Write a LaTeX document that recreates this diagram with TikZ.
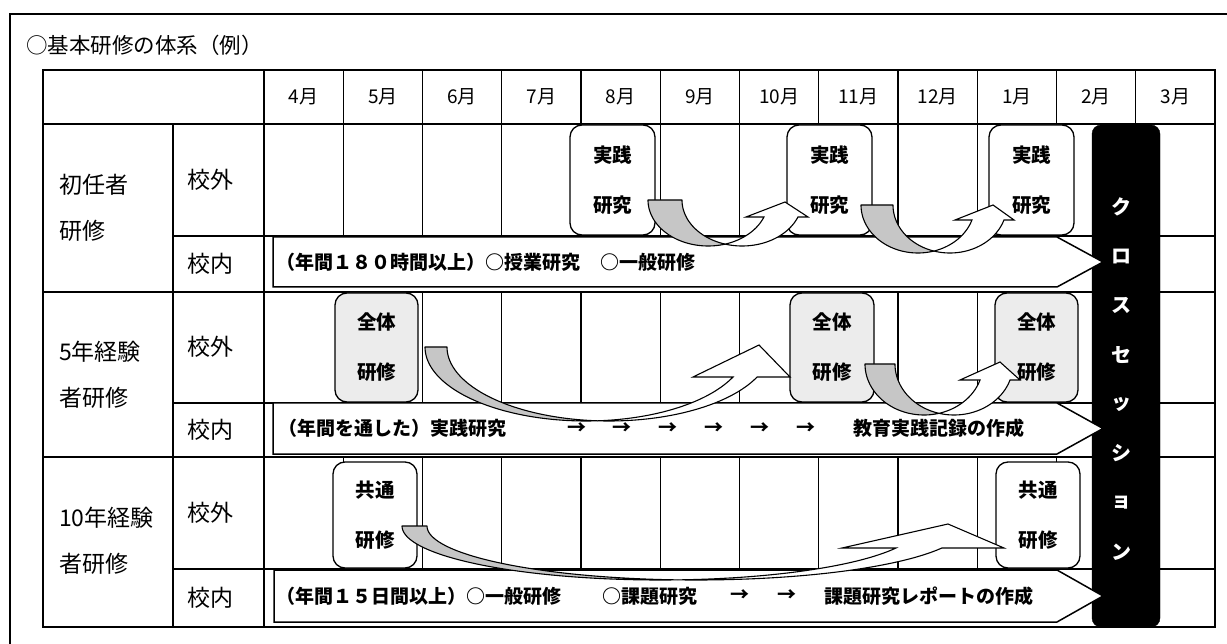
\documentclass[tikz,border=0pt]{standalone}
\usepackage{fontspec}
\setmainfont{Noto Sans CJK JP}
\newcommand\titlefont{\fontsize{21.5}{21.5}\selectfont}
\newcommand\monthfont{\fontsize{19}{19}\selectfont}
\newcommand\lblfont{\fontsize{23}{23}\selectfont}
\newcommand\bandfont{\fontsize{19}{19}\selectfont\bfseries}
\newcommand\boxfont{\fontsize{19.5}{50}\selectfont\bfseries}
\newcommand\csfont{\fontsize{20}{20}\selectfont\bfseries}
% #1 cxL #2 aL #3 cxR #4 aR #5 cy #6 b #7 end angle #8 head points
\newcommand\curvedarrow[8]{%
  \pgfmathsetmacro\tcA{acos((#3-#1)/(#2+#4))}%
  \pgfmathsetmacro\tcB{180-\tcA}%
  \filldraw[backface] plot[domain=180:\tcA,samples=60,variable=\t] ({#1+#2*cos(\t)},{#5+#6*sin(\t)})
     -- plot[domain=\tcB:180,samples=60,variable=\t] ({#3+#4*cos(\t)},{#5+#6*sin(\t)}) -- cycle;
  \filldraw[frontface] plot[domain=\tcA:#7,samples=60,variable=\t] ({#1+#2*cos(\t)},{#5+#6*sin(\t)})
     -- #8 -- plot[domain=#7:\tcB,samples=60,variable=\t] ({#3+#4*cos(\t)},{#5+#6*sin(\t)}) -- cycle;
}
\begin{document}
\begin{tikzpicture}[x=1pt,y=-1pt,
  gridline/.style={line width=1.3pt},
  frameline/.style={line width=1.5pt},
  band/.style={draw, line width=1.5pt, fill=white, line join=miter},
  rbox/.style={draw, line width=1.3pt, rounded corners=12pt, fill=white, inner sep=0pt,
               align=center, font=\boxfont, minimum width=85pt, minimum height=110pt},
  dotbox/.style={rbox, fill=gray!15},
  backface/.style={draw, line width=1.1pt, fill=gray!45, line join=round},
  frontface/.style={draw, line width=1.1pt, fill=white, line join=miter},
  bandtxt/.style={font=\bandfont, inner sep=0pt, anchor=west},
  bandarr/.style={font=\bandfont, inner sep=0pt},
  grplbl/.style={font=\lblfont, inner sep=0pt, anchor=west},
  sublbl/.style={font=\lblfont, inner sep=0pt, anchor=west},
  monthlbl/.style={font=\monthfont, inner sep=0pt},
  cstxt/.style={font=\csfont, text=white, inner sep=0pt},
  crossbox/.style={draw=black, fill=black, rounded corners=9pt, minimum width=68pt, minimum height=502pt, inner sep=0pt}
]
\useasboundingbox (0,0) rectangle (1227,644);
% outer frame
\draw[frameline] (10,650) -- (10,14) -- (1240,14);
\node[font=\titlefont, inner sep=0pt, anchor=west] (title) at (26,45) {○基本研修の体系（例）};
% table grid
\draw[gridline] (43,70) rectangle (1215,627);
\foreach \y in {124,292,457} \draw[gridline] (43,\y) -- (1215,\y);
\foreach \y in {236,403,569} \draw[gridline] (173,\y) -- (1215,\y);
\draw[gridline] (173,124) -- (173,627);
\draw[gridline] (264,70) -- (264,627);
\foreach \k in {1,...,11} {
  \draw[gridline] ({264+79.25*\k},70) -- ({264+79.25*\k},124);
  \draw[gridline] ({264+79.25*\k},124) -- ({264+79.25*\k},236);
  \draw[gridline] ({264+79.25*\k},292) -- ({264+79.25*\k},403);
  \draw[gridline] ({264+79.25*\k},457) -- ({264+79.25*\k},569);
}
% month labels
\foreach \m [count=\i from 0] in {4月,5月,6月,7月,8月,9月,10月,11月,12月,1月,2月,3月}
  \node[monthlbl] (m\i) at ({264+79.25*(\i+0.5)},97) {\m};
% row labels
\node[grplbl] (g1a) at (59,185) {初任者};
\node[grplbl] (g1b) at (59,231) {研修};
\node[grplbl] (g2a) at (59,352) {5年経験};
\node[grplbl] (g2b) at (59,398) {者研修};
\node[grplbl] (g3a) at (59,518) {10年経験};
\node[grplbl] (g3b) at (59,564) {者研修};
\node[sublbl] (s1o) at (187,180) {校外};
\node[sublbl] (s1i) at (187,264) {校内};
\node[sublbl] (s2o) at (187,347) {校外};
\node[sublbl] (s2i) at (187,430) {校内};
\node[sublbl] (s3o) at (187,513) {校外};
\node[sublbl] (s3i) at (187,598) {校内};
% cross session box
\node[crossbox] (cs) at (1126,376) {};
% bands
\draw[band] (273,237) -- (1057,237) -- (1103,262) -- (1057,287) -- (273,287) -- cycle;
\draw[band] (273,403) -- (1057,403) -- (1103,428.5) -- (1057,454) -- (273,454) -- cycle;
\draw[band] (274,570) -- (1057,570) -- (1103,596) -- (1057,622) -- (274,622) -- cycle;
\node[bandtxt] (t1a) at (276,262) {（年間１８０時間以上）○授業研究};
\node[bandtxt] (t1b) at (600,262) {○一般研修};
\node[bandtxt] (t2a) at (278,428.5) {（年間を通した）実践研究};
\foreach \x [count=\j] in {577,622,668,714,760,806}
  \node[bandarr] (a2\j) at (\x,428.5) {→};
\node[bandtxt] (t2b) at (853,428.5) {教育実践記録の作成};
\node[bandtxt] (t3a) at (276,596) {（年間１５日間以上）○一般研修};
\node[bandtxt] (t3b) at (602,596) {○課題研究};
\node[bandarr] (a31) at (740,596) {→};
\node[bandarr] (a32) at (787,596) {→};
\node[bandtxt] (t3c) at (824,596) {課題研究レポートの作成};
% rounded boxes
\node[rbox] (b11) at (612.5,180) {実践\\研究};
\node[rbox] (b12) at (829.5,180) {実践\\研究};
\node[rbox] (b13) at (1031.5,180) {実践\\研究};
\node[dotbox, minimum width=83pt, minimum height=109pt] (b21) at (376.5,347.5) {全体\\研修};
\node[dotbox, minimum width=84pt, minimum height=109pt] (b22) at (832,347.5) {全体\\研修};
\node[dotbox, minimum width=83pt, minimum height=109pt] (b23) at (1036.5,347.5) {全体\\研修};
\node[rbox, minimum width=84pt, minimum height=106pt] (b31) at (375,515) {共通\\研修};
\node[rbox, minimum width=84pt, minimum height=106pt] (b32) at (1038,515) {共通\\研修};
% curved arrows
\curvedarrow{708.1}{60.1}{742.1}{60.1}{200}{46}{21.7}{(746,217) -- (785,202) -- (808,217)}
\curvedarrow{917.9}{56.9}{949.9}{56.9}{205}{48}{18.2}{(955,220) -- (993,205) -- (1014,220)}
\curvedarrow{585.9}{160.9}{609}{162}{347}{74}{23.9}{(693,377) -- (759,345) -- (790,377)}
\curvedarrow{924}{59}{954}{59}{364}{51}{18.3}{(960,380) -- (1000,362) -- (1020,380)}
\curvedarrow{660.2}{258.2}{696.1}{269.1}{526}{54}{24}{(842,548) -- (948,524) -- (1004,548)}
% cross session text
\foreach \c [count=\i from 0] in {ク,ロ,ス,セ,ッ,シ,ョ,ン}
  \node[cstxt] (c\i) at (1121,{207+49.3*\i}) {\c};
\end{tikzpicture}
\end{document}
